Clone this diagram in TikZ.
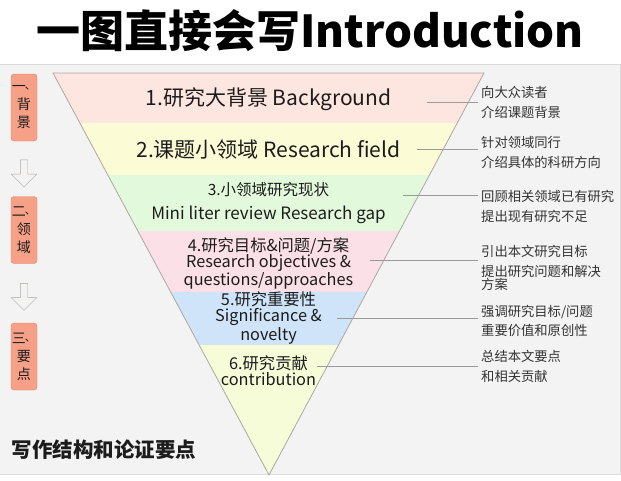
\documentclass[tikz,border=0pt]{standalone}
\usepackage{fontspec}
\setmainfont{Noto Sans CJK SC}
\usepackage{xcolor}
\usetikzlibrary{positioning,shapes.arrows}
\definecolor{panelgray}{HTML}{F3F3F3}
\definecolor{paneledge}{HTML}{DCDCDC}
\definecolor{funnelgray}{HTML}{ADA8A2}
\definecolor{bandpeach}{HTML}{FDE6DF}
\definecolor{bandyellow}{HTML}{FBFBD5}
\definecolor{bandgreen}{HTML}{E3F9DC}
\definecolor{bandpink}{HTML}{FCE0E8}
\definecolor{bandblue}{HTML}{CFE4F8}
\definecolor{bandlime}{HTML}{F6FCD8}
\definecolor{tagfill}{HTML}{F7A088}
\definecolor{tagedge}{HTML}{D9876F}
\definecolor{inkdark}{HTML}{1C1C1C}
\definecolor{notegray}{HTML}{333333}
\definecolor{leadergray}{HTML}{9A9A9A}
\newcommand{\tagcomma}{\kern-1pt\raisebox{2pt}{\fontsize{11}{11}\selectfont 、}}
\tikzset{%
	stage/.style    = {align=center, text=inkdark, inner sep=1pt}, % funnel text
	note/.style     = {anchor=west, align=left, text=notegray, inner sep=3pt, font=\fontsize{13.3}{19.5}\selectfont}, % right side
	leader/.style   = {draw=leadergray, line width=0.6pt},
	tag/.style      = {draw=tagedge, fill=tagfill, rounded corners=3pt, minimum width=26pt, minimum height=67pt, inner sep=1pt, align=center, text=inkdark, font=\fontsize{14}{18}\selectfont}, % left boxes
	downarrow/.style = {single arrow, draw=funnelgray, rotate=-90, minimum height=27pt, single arrow head extend=9pt, inner sep=3.5pt},
}

\begin{document}
\begin{tikzpicture}[x=1pt, y=-1pt]
	\useasboundingbox (0,0) rectangle (621,480);
	\fill[white] (0,0) rectangle (621,480);
	\draw[paneledge, fill=panelgray] (-1,64) rectangle (620,474);
	\node[font=\fontsize{44}{50}\selectfont\bfseries, text=black] (title) at (310,31) {一图直接会写Introduction};
	% funnel
	\coordinate (tl) at (53,73);
	\coordinate (tr) at (484,73);
	\coordinate (apex) at (269,475);
	\begin{scope}
		\clip (tl) -- (tr) -- (apex) -- cycle;
		\fill[bandpeach] (40,73) rectangle (500,123);
		\fill[bandyellow] (40,123) rectangle (500,175);
		\fill[bandgreen] (40,175) rectangle (500,231);
		\fill[bandpink] (40,231) rectangle (500,292);
		\fill[bandblue] (40,292) rectangle (500,345);
		\fill[bandlime] (40,345) rectangle (500,480);
	\end{scope}
	\draw[funnelgray, line width=0.8pt] (tl) -- (tr) -- (apex) -- cycle;
	\node[stage, font=\fontsize{21}{24}\selectfont] (s1) at (268.5,99) {1.研究大背景 Background};
	\node[stage, font=\fontsize{21}{24}\selectfont] (s2) at (268.5,150) {2.课题小领域 Research field};
	\node[stage, font=\fontsize{15.5}{24}\selectfont] (s3) at (268.5,203) {3.小领域研究现状\\{\fontsize{17}{24}\selectfont Mini liter review Research gap}};
	\node[stage, font=\fontsize{16.3}{16}\selectfont] (s4) at (268.5,263) {4.研究目标\&问题/方案\\Research objectives \&\\questions/approaches};
	\node[stage, font=\fontsize{16.3}{16}\selectfont] (s5) at (268.5,318) {5.研究重要性\\Significance \&\\novelty};
	\node[stage, font=\fontsize{16.3}{16}\selectfont] (s6) at (268.5,371) {6.研究贡献\\contribution};
	% notes on the right
	\node[note] (d1) at (478,102.5) {向大众读者\\介绍课题背景};
	\node[note] (d2) at (478,152.5) {针对领域同行\\介绍具体的科研方向};
	\node[note] (d3) at (478,206.5) {回顾相关领域已有研究\\提出现有研究不足};
	\node[note] (d4) at (478,268) {引出本文研究目标\\提出研究问题和解决\\[-6pt]方案};
	\node[note] (d5) at (478,321) {强调研究目标/问题\\重要价值和原创性};
	\node[note] (d6) at (478,366.5) {总结本文要点\\和相关贡献};
	\coordinate (l1) at (427,102);
	\coordinate (l2) at (417,149);
	\coordinate (l3) at (403,195);
	\coordinate (l4) at (370,260);
	\coordinate (l5) at (337,318);
	\coordinate (l6) at (317,366);
	\draw[leader] (l1) -- (l1 -| d1.west);
	\draw[leader] (l2) -- (l2 -| d2.west);
	\draw[leader] (l3) -- (l3 -| d3.west);
	\draw[leader] (l4) -- (l4 -| d4.west);
	\draw[leader] (l5) -- (l5 -| d5.west);
	\draw[leader] (l6) -- (l6 -| d6.west);
	% left column
	\node[tag] (t1) at (24,107.5) {一\tagcomma\\背\\景};
	\node[tag] (t2) at (24,230) {二\tagcomma\\领\\域};
	\node[tag] (t3) at (24,356.5) {三\tagcomma\\要\\点};
	\node[downarrow] (a1) at (24,171.5) {};
	\node[downarrow] (a2) at (24,295) {};
	\node[anchor=west, font=\fontsize{20.5}{24}\selectfont\bfseries, text=inkdark] (foot) at (8,450) {写作结构和论证要点};
\end{tikzpicture}
\end{document}
